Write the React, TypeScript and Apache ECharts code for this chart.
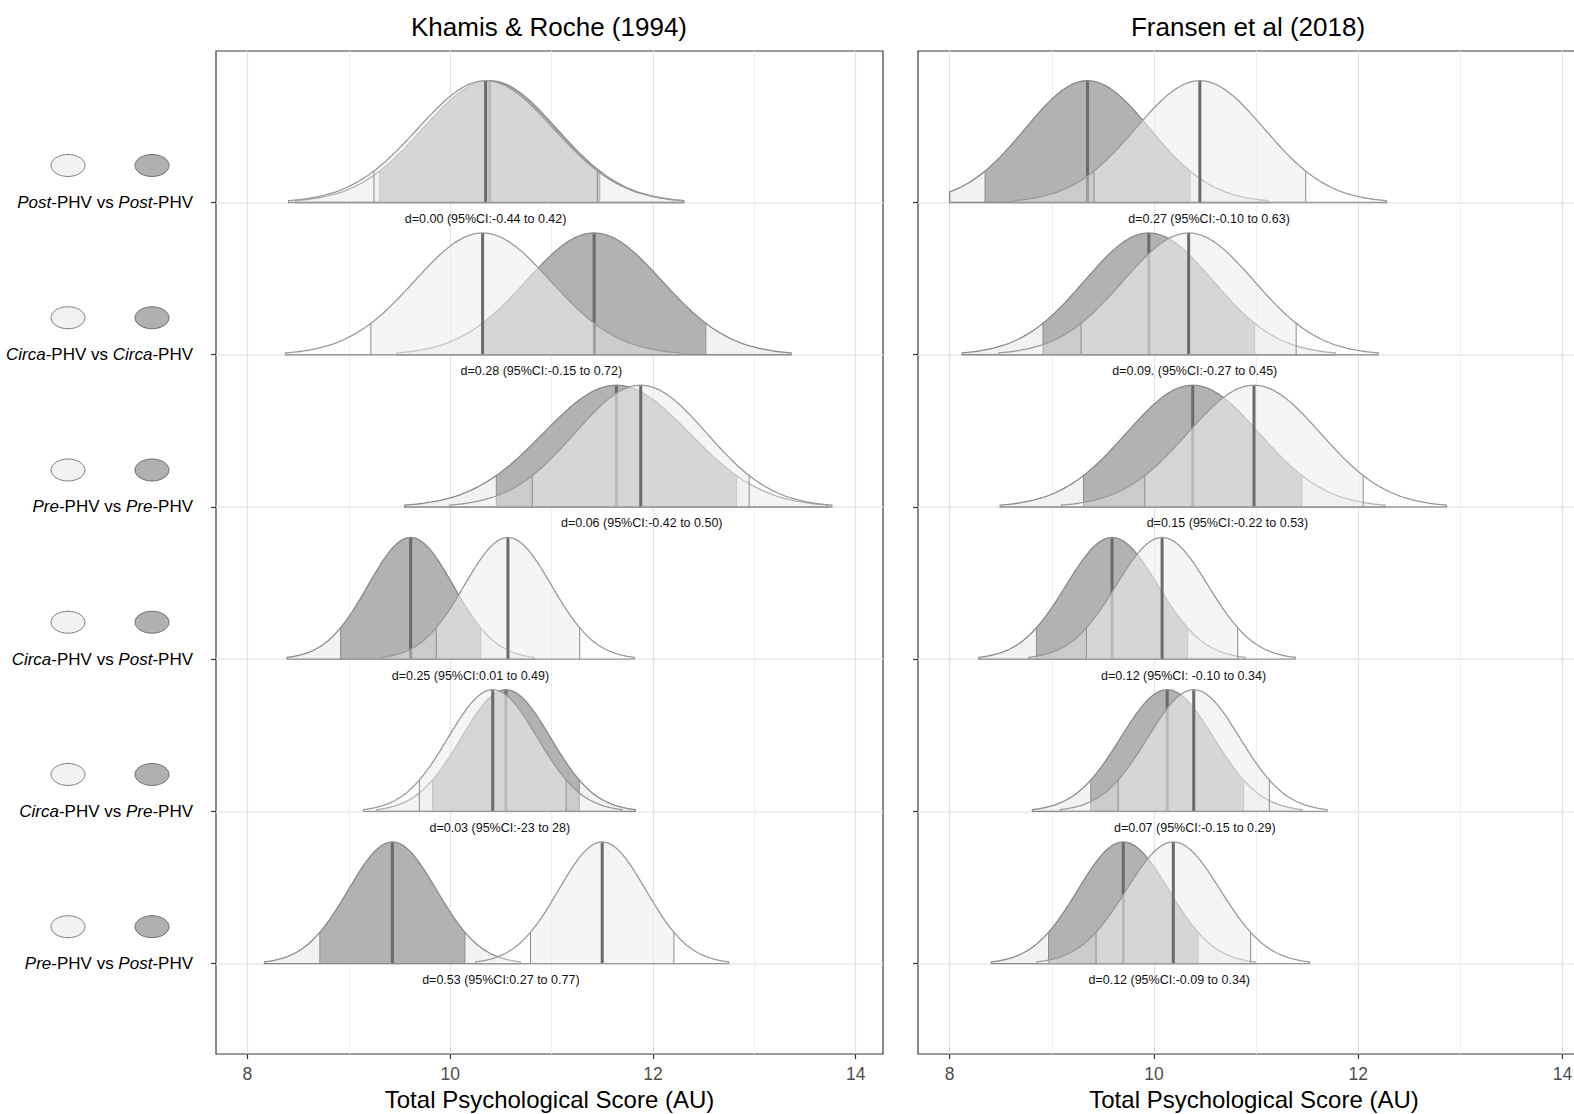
import React, { useEffect, useRef } from "react";
import * as echarts from "echarts";

// ---------------- data ----------------
// rows listed top -> bottom
const rowFirst = ["Post", "Circa", "Pre", "Circa", "Circa", "Pre"];
const rowSecond = ["Post", "Circa", "Pre", "Post", "Pre", "Post"];
const rowValues = [6, 5, 4, 3, 2, 1];

const panelTitles = ["Khamis & Roche (1994)", "Fransen et al (2018)"];
const xAxisTitle = "Total Psychological Score (AU)";
const xTickValues = [8, 10, 12, 14];
const xMinorValues = [9, 11, 13];

// Khamis & Roche (1994): light group (first) and dark group (second)
const khamisLightMean = [10.35, 10.32, 11.88, 10.57, 10.42, 11.5];
const khamisLightSd = [0.67, 0.67, 0.65, 0.43, 0.44, 0.43];
const khamisDarkMean = [10.39, 11.42, 11.64, 9.61, 10.55, 9.43];
const khamisDarkSd = [0.66, 0.67, 0.72, 0.42, 0.44, 0.435];
const khamisEffect = [
  "d=0.00 (95%CI:-0.44 to 0.42)",
  "d=0.28 (95%CI:-0.15 to 0.72)",
  "d=0.06 (95%CI:-0.42 to 0.50)",
  "d=0.25 (95%CI:0.01 to 0.49)",
  "d=0.03 (95%CI:-23 to 28)",
  "d=0.53 (95%CI:0.27 to 0.77)",
];
const khamisEffectX = [10.35, 10.9, 11.89, 10.2, 10.49, 10.5];

// Fransen et al (2018)
const fransenLightMean = [10.45, 10.34, 10.98, 10.08, 10.39, 10.19];
const fransenLightSd = [0.63, 0.64, 0.65, 0.45, 0.45, 0.46];
const fransenDarkMean = [9.35, 9.95, 10.38, 9.59, 10.13, 9.7];
const fransenDarkSd = [0.61, 0.63, 0.65, 0.45, 0.455, 0.445];
const fransenEffect = [
  "d=0.27 (95%CI:-0.10 to 0.63)",
  "d=0.09. (95%CI:-0.27 to 0.45)",
  "d=0.15 (95%CI:-0.22 to 0.53)",
  "d=0.12 (95%CI: -0.10 to 0.34)",
  "d=0.07 (95%CI:-0.15 to 0.29)",
  "d=0.12 (95%CI:-0.09 to 0.34)",
];
const fransenEffectX = [10.54, 10.4, 10.72, 10.29, 10.4, 10.15];

// ---------------- constants ----------------
const X_MIN = 7.69;
const X_MAX = 14.27;
const Y_MIN = 0.407;
const Y_MAX = 6.995;
const DENSITY_FLOOR = 8;
const PEAK = 0.8;
const Z90 = 1.645;
const TAIL = 2.9;
const FONT = "Liberation Sans, Arial, Helvetica, sans-serif";

const DARK = { tail: "#f2f2f2", center: "#b2b2b2", outline: "#8a8a8a" };
const LIGHT = { tail: "rgba(250,250,250,0.35)", center: "rgba(238,238,238,0.6)", outline: "#9a9a9a" };

const panels = [
  { lightMean: khamisLightMean, lightSd: khamisLightSd, darkMean: khamisDarkMean, darkSd: khamisDarkSd, effect: khamisEffect, effectX: khamisEffectX },
  { lightMean: fransenLightMean, lightSd: fransenLightSd, darkMean: fransenDarkMean, darkSd: fransenDarkSd, effect: fransenEffect, effectX: fransenEffectX },
];

function curveRenderer(p: any) {
  return (params: any, api: any) => {
    const i = params.dataIndex;
    const row = Math.floor(i / 2);
    const light = i % 2 === 1;
    const m = light ? p.lightMean[row] : p.darkMean[row];
    const s = light ? p.lightSd[row] : p.darkSd[row];
    const base = rowValues[row];
    const dens = (x: number) => base + PEAK * Math.exp(-0.5 * ((x - m) / s) * ((x - m) / s));
    const lo = Math.max(m - TAIL * s, DENSITY_FLOOR);
    const hi = m + TAIL * s;
    const q1 = m - Z90 * s;
    const q2 = m + Z90 * s;
    const arc = (a: number, b: number, n: number) => {
      const pts: number[][] = [];
      for (let k = 0; k <= n; k++) {
        const x = a + ((b - a) * k) / n;
        pts.push(api.coord([x, dens(x)]));
      }
      return pts;
    };
    const area = (a: number, b: number, n: number) => [...arc(a, b, n), api.coord([b, base]), api.coord([a, base])];
    const st = light ? LIGHT : DARK;
    const z0 = i * 10;
    const vline = (x: number, color: string, w: number, z2: number) => {
      const a = api.coord([x, base]);
      const b = api.coord([x, dens(x)]);
      return { type: "line", z2, shape: { x1: a[0], y1: a[1], x2: b[0], y2: b[1] }, style: { stroke: color, lineWidth: w } };
    };
    return {
      type: "group",
      children: [
        { type: "polygon", z2: z0, shape: { points: area(lo, q1, 30) }, style: { fill: st.tail } },
        { type: "polygon", z2: z0 + 1, shape: { points: area(q1, q2, 70) }, style: { fill: st.center } },
        { type: "polygon", z2: z0, shape: { points: area(q2, hi, 30) }, style: { fill: st.tail } },
        vline(q1, "#8e8e8e", 1, z0 + 2),
        vline(q2, "#8e8e8e", 1, z0 + 2),
        vline(m, "#6a6a6a", 3, z0 + 3),
        { type: "polygon", z2: z0 + 4, shape: { points: area(lo, hi, 140) }, style: { fill: "none", stroke: st.outline, lineWidth: 1.3 } },
      ],
    };
  };
}

function labelRenderer(p: any) {
  return (params: any, api: any) => {
    const r = params.dataIndex;
    const pt = api.coord([p.effectX[r], rowValues[r]]);
    return {
      type: "text",
      x: pt[0],
      y: pt[1] + 16.5,
      z2: 500,
      style: { text: p.effect[r], fill: "#111", fontSize: 12.5, fontFamily: FONT, align: "center", verticalAlign: "middle" },
    };
  };
}

function ellipseRenderer(params: any, api: any) {
  const r = params.dataIndex;
  const pt = api.coord([X_MIN, rowValues[r]]);
  const cy = pt[1] - 37;
  return {
    type: "group",
    children: [
      { type: "ellipse", shape: { cx: pt[0] - 148, cy, rx: 17, ry: 11 }, style: { fill: "#f2f2f2", stroke: "#808080", lineWidth: 1 } },
      { type: "ellipse", shape: { cx: pt[0] - 64, cy, rx: 17, ry: 11 }, style: { fill: "#b0b0b0", stroke: "#6e6e6e", lineWidth: 1 } },
    ],
  };
}

function mainX(gridIndex: number) {
  return {
    type: "value",
    gridIndex,
    min: X_MIN,
    max: X_MAX,
    position: "bottom",
    axisLine: { show: false },
    axisTick: { show: true, length: 5, inside: false, customValues: xTickValues, lineStyle: { color: "#333", width: 1.2 } },
    axisLabel: { show: true, customValues: xTickValues, margin: 11, fontSize: 17.5, color: "#4d4d4d", fontFamily: FONT, formatter: (v: number) => String(v) },
    splitLine: { show: true, lineStyle: { color: "#e3e3e3", width: 1.2 } },
    name: xAxisTitle,
    nameLocation: "middle",
    nameGap: 30,
    nameTextStyle: { fontSize: 24, color: "#000", fontFamily: FONT },
  };
}

function minorX(gridIndex: number) {
  return {
    type: "value",
    gridIndex,
    min: X_MIN,
    max: X_MAX,
    position: "bottom",
    axisLine: { show: false },
    axisTick: { show: false, customValues: xMinorValues },
    axisLabel: { show: false, customValues: xMinorValues },
    splitLine: { show: true, lineStyle: { color: "#f0f0f0", width: 1 } },
  };
}

function yAxis(gridIndex: number, showLabels: boolean) {
  return {
    type: "value",
    gridIndex,
    min: Y_MIN,
    max: Y_MAX,
    axisLine: { show: false },
    axisTick: { show: true, length: 5, inside: false, customValues: rowValues, lineStyle: { color: "#333", width: 1.2 } },
    axisLabel: {
      show: showLabels,
      customValues: rowValues,
      margin: 23,
      fontSize: 17,
      color: "#000",
      fontFamily: FONT,
      formatter: (v: number) => {
        const r = rowValues.indexOf(Math.round(v));
        if (r < 0) return "";
        return `{it|${rowFirst[r]}}{n|-PHV vs }{it|${rowSecond[r]}}{n|-PHV}`;
      },
      rich: {
        it: { fontStyle: "italic", fontSize: 17, color: "#000", fontFamily: FONT },
        n: { fontSize: 17, color: "#000", fontFamily: FONT },
      },
    },
    splitLine: { show: true, lineStyle: { color: "#e8e8e8", width: 1.6 } },
  };
}

export default function App() {
  const ref = useRef<HTMLDivElement>(null);
  useEffect(() => {
    if (!ref.current) return;
    const chart = echarts.init(ref.current, null, { renderer: "svg" });
    const gridBase = { top: 51, height: 1003, show: true, borderColor: "#3a3a3a", borderWidth: 1.2, backgroundColor: "#fff", containLabel: false, outerBoundsMode: "none" };
    const series: any[] = [];
    panels.forEach((p, k) => {
      const curveData = rowValues.flatMap((v, r) => [[p.darkMean[r], v], [p.lightMean[r], v]]);
      series.push({
        type: "custom",
        xAxisIndex: k * 2,
        yAxisIndex: k,
        renderItem: curveRenderer(p),
        data: curveData,
        z: 2,
        silent: true,
      });
      series.push({
        type: "custom",
        xAxisIndex: k * 2,
        yAxisIndex: k,
        renderItem: labelRenderer(p),
        data: rowValues.map((v, r) => [p.effectX[r], v]),
        z: 4,
        silent: true,
      });
    });
    series.push({
      type: "custom",
      xAxisIndex: 0,
      yAxisIndex: 0,
      renderItem: ellipseRenderer,
      data: rowValues.map((v) => [X_MIN, v]),
      clip: false,
      z: 4,
      silent: true,
    });
    chart.setOption({
      animation: false,
      backgroundColor: "#fff",
      title: [
        { text: panelTitles[0], left: 544, top: 9, textAlign: "center", textStyle: { fontSize: 26, fontWeight: "normal", color: "#000", fontFamily: FONT } },
        { text: panelTitles[1], left: 1243, top: 9, textAlign: "center", textStyle: { fontSize: 26, fontWeight: "normal", color: "#000", fontFamily: FONT } },
      ],
      grid: [
        { ...gridBase, left: 216, width: 667 },
        { ...gridBase, left: 918, width: 672 },
      ],
      xAxis: [mainX(0), minorX(0), mainX(1), minorX(1)],
      yAxis: [yAxis(0, true), yAxis(1, false)],
      series,
    });
    return () => chart.dispose();
  }, []);
  return <div ref={ref} style={{ position: "fixed", left: 0, top: 0, width: 1574, height: 1114, background: "#fff" }} />;
}
